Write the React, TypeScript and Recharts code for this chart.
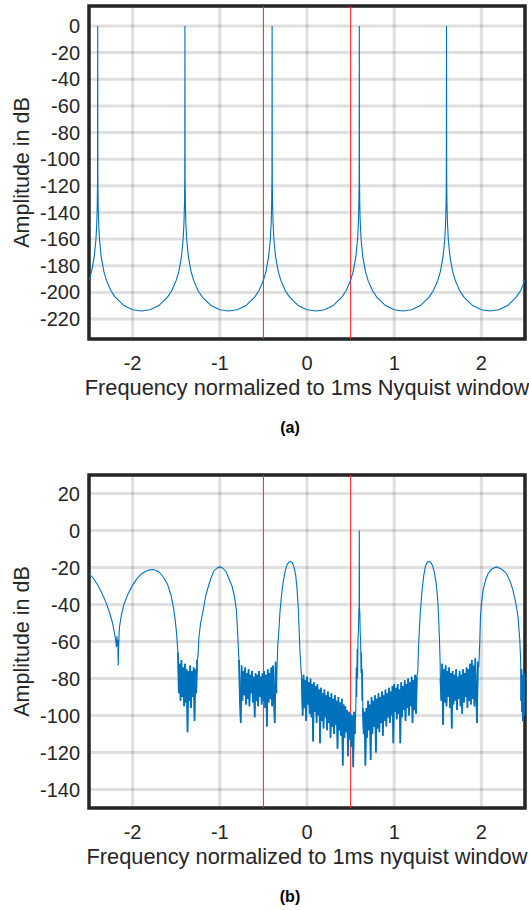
import React from "react";
import { LineChart, Line, XAxis, YAxis, CartesianGrid, ReferenceLine, ReferenceArea } from "recharts";

// --- Data ---

const FREQ_TICKS = [-2, -1, 0, 1, 2];
const DB_TICKS_A = [-220, -200, -180, -160, -140, -120, -100, -80, -60, -40, -20, 0];
const DB_TICKS_B = [-140, -120, -100, -80, -60, -40, -20, 0, 20];
const NYQUIST_EDGES = [-0.5, 0.5];

// (a) ideal tone images: one lobe shape, repeated at each image frequency
const PEAKS_A = [-2.4, -1.4, -0.4, 0.6, 1.6, 2.6];
const LOBE_OFFSETS = [-0.5, -0.4, -0.3, -0.2, -0.15, -0.1, -0.07, -0.04, -0.02, -0.01, -0.005, -0.002, 0,
  0.002, 0.005, 0.01, 0.02, 0.04, 0.07, 0.1, 0.15, 0.2, 0.3, 0.4];
const LOBE_DB = [-214, -213, -209.9, -203.6, -198.6, -191, -184.2, -173.4, -159.9, -146.4, -132.8, -115, 0,
  -115, -132.8, -146.4, -159.9, -173.4, -184.2, -191, -198.6, -203.6, -209.9, -213];

// (b) smooth lobes as [freq, dB]
const EDGE_LOBE = [
  [-2.5, -23.4], [-2.45, -25.8], [-2.4, -29.5], [-2.35, -34], [-2.3, -39.5], [-2.26, -45], [-2.23, -50],
  [-2.21, -55], [-2.195, -59], [-2.185, -63], [-2.18, -57], [-2.175, -62], [-2.17, -59], [-2.165, -73],
  [-2.16, -63], [-2.155, -56], [-2.15, -52], [-2.13, -46], [-2.1, -40], [-2.05, -34], [-2.0, -29.5],
  [-1.95, -26], [-1.9, -23.5], [-1.85, -22], [-1.8, -21.3], [-1.76, -21.1], [-1.7, -22.3], [-1.65, -25],
  [-1.6, -29], [-1.56, -35], [-1.53, -42], [-1.51, -49], [-1.495, -56], [-1.485, -63],
];
const LOBE_1 = [
  [-1.25, -68], [-1.24, -58], [-1.22, -50], [-1.19, -43], [-1.16, -35], [-1.13, -30], [-1.1, -25.5],
  [-1.07, -22], [-1.03, -20.2], [-1.0, -19.7], [-0.97, -20.2], [-0.93, -22], [-0.9, -25.5], [-0.86, -30],
  [-0.83, -36], [-0.81, -43], [-0.795, -55], [-0.785, -66],
];
const LOBE_2 = [
  [-0.345, -76], [-0.335, -62], [-0.32, -52], [-0.31, -44], [-0.29, -34], [-0.27, -27], [-0.25, -22],
  [-0.23, -18.5], [-0.21, -17.2], [-0.19, -16.8], [-0.17, -17.3], [-0.15, -19.5], [-0.13, -24],
  [-0.115, -31], [-0.1, -42], [-0.09, -54], [-0.08, -66], [-0.07, -74],
];
const TONE_PEAK = [
  [0.56, -96], [0.565, -74], [0.57, -90], [0.575, -64], [0.58, -80], [0.585, -58], [0.59, -54],
  [0.594, -44], [0.598, -41], [0.6, 0], [0.602, -42], [0.606, -45], [0.61, -55], [0.615, -60],
  [0.62, -77], [0.625, -66], [0.63, -92], [0.635, -75],
];
const LOBE_3 = [
  [1.27, -76], [1.28, -62], [1.29, -52], [1.3, -44], [1.32, -32], [1.34, -24], [1.36, -19], [1.38, -17],
  [1.4, -16.8], [1.42, -17.3], [1.44, -19], [1.46, -22.5], [1.48, -28], [1.5, -38], [1.51, -48],
  [1.52, -60], [1.527, -72],
];
const LOBE_4 = [
  [1.97, -74], [1.98, -62], [1.99, -46], [2.0, -40], [2.02, -32], [2.05, -26.5], [2.08, -23],
  [2.12, -20.8], [2.17, -19.7], [2.22, -20.5], [2.26, -22], [2.29, -23.5], [2.33, -27.5], [2.36, -32],
  [2.39, -38], [2.42, -46.6], [2.44, -59], [2.45, -70],
];

// (b) noise floor between the lobes: start freq, bin step, dB values
const NOISE_1 = { start: -1.48, step: 0.01, db: [-66, -88, -72, -92, -70, -90, -74, -95, -72, -93, -75, -109,
  -76, -92, -73, -96, -76, -90, -74, -103, -75, -88, -70] };
const NOISE_2 = { start: -0.78, step: 0.01, db: [-70, -90, -104, -73, -92, -76, -89, -74, -94, -77, -91, -75,
  -95, -78, -88, -76, -93, -79, -101, -77, -92, -78, -95, -76, -90, -79, -94, -77, -92, -76, -96, -78,
  -106, -75, -93, -77, -91, -74, -95, -73, -90, -104, -71, -88] };
const NOISE_3 = { start: -0.06, step: 0.01, db: [-80, -100, -78, -96, -81, -103, -79, -94, -82, -99,
  -80, -101, -83, -114, -82, -98, -84, -104, -83, -100, -86, -115, -85, -103, -88, -107, -86, -101, -89, -108,
  -87, -104, -90, -112, -88, -106, -91, -110, -89, -105, -92, -118, -90, -108, -93, -111, -91, -127, -94, -112,
  -95, -109, -97, -122, -98, -113, -99, -117, -100, -128, -98, -110] };
const NOISE_4 = { start: 0.64, step: 0.01, db: [-96, -110, -98, -127, -96, -112, -92, -108, -94, -124,
  -90, -110, -92, -106, -89, -120, -91, -107, -88, -109, -90, -104, -87, -111, -89, -103, -86, -106, -88, -101,
  -85, -104, -87, -100, -84, -115, -83, -98, -85, -102, -83, -99, -86, -115, -82, -101, -84, -97, -81, -103,
  -83, -96, -80, -100, -82, -95, -79, -104, -81, -97, -78, -99, -79] };
const NOISE_5 = { start: 1.53, step: 0.01, db: [-80, -92, -72, -105, -75, -93, -73, -95, -76, -90,
  -74, -96, -77, -107, -76, -94, -78, -92, -75, -97, -79, -91, -76, -95, -78, -99, -75, -93, -77, -90,
  -74, -96, -75, -92, -72, -94, -70, -91, -73, -95, -69, -90, -104, -71] };
const NOISE_6 = { start: 2.455, step: 0.005, db: [-92, -75, -98, -78, -103, -80, -95, -77, -100, -82] };

// --- Build tables ---

const r3 = (v: number) => Math.round(v * 1000) / 1000;

const dataA = PEAKS_A.flatMap((p) => LOBE_OFFSETS.map((o, i) => ({ f: r3(p + o), db: LOBE_DB[i] })))
  .filter((d) => d.f >= -2.5 && d.f <= 2.5)
  .sort((a, b) => a.f - b.f);

const pairs = (arr: number[][]) => arr.map(([f, db]) => ({ f, db, nz: null as number | null }));
// noise rows also carry "nz" so the floor can be drawn a bit heavier (it is a dense smear in the original)
const noise = (n: { start: number; step: number; db: number[] }) =>
  n.db.map((db, i) => ({ f: r3(n.start + i * n.step), db, nz: db as number | null }));

const dataB = [
  ...pairs(EDGE_LOBE), ...noise(NOISE_1), ...pairs(LOBE_1), ...noise(NOISE_2), ...pairs(LOBE_2),
  ...noise(NOISE_3), ...pairs(TONE_PEAK), ...noise(NOISE_4), ...pairs(LOBE_3), ...noise(NOISE_5),
  ...pairs(LOBE_4), ...noise(NOISE_6),
].sort((a, b) => a.f - b.f);

// --- Styles ---

const FONT = '"Liberation Sans", Arial, Helvetica, sans-serif';
const INK = "#262626";
const BLUE = "#0072BD";
const RED = "#ff1f1f";
const TICK_MARK = { stroke: INK, strokeWidth: 3 };

function XTitle({ viewBox, text }: any) {
  const { x, y, width } = viewBox;
  return (
    <text x={x + width / 2} y={y + 56} textAnchor="middle" fontSize={21.8} fill={INK} fontFamily={FONT}>
      {text}
    </text>
  );
}

function YTitle({ viewBox, text }: any) {
  const cx = viewBox.x + 22;
  const cy = viewBox.y + viewBox.height / 2;
  return (
    <text x={cx} y={cy} transform={`rotate(-90 ${cx} ${cy})`} textAnchor="middle" dominantBaseline="central"
      fontSize={21.5} fill={INK} fontFamily={FONT}>
      {text}
    </text>
  );
}

function Panel({ data, domain, ticks, xTitle, caption, top, noisy }: any) {
  const fx = [-2.5, 2.5];
  return (
    <div style={{ position: "absolute", left: 0, top, width: 529, height: 440 }}>
      <LineChart width={529} height={400} data={data} margin={{ top: 6, right: 4, bottom: 0, left: 0 }}>
        <CartesianGrid xAxisId="x" yAxisId="y" stroke={INK} strokeOpacity={0.15} strokeWidth={3} />

        {/* inward tick marks (mirrored, zero-size axes) */}
        <XAxis xAxisId="xb" orientation="bottom" mirror dataKey="f" type="number" domain={fx} ticks={FREQ_TICKS}
          allowDataOverflow interval={0} height={0} tickSize={6} axisLine={false} tickLine={TICK_MARK} tick={false} />
        <XAxis xAxisId="xt" orientation="top" mirror dataKey="f" type="number" domain={fx} ticks={FREQ_TICKS}
          allowDataOverflow interval={0} height={0} tickSize={6} axisLine={false} tickLine={TICK_MARK} tick={false} />
        <YAxis yAxisId="yl" orientation="left" mirror type="number" domain={domain} ticks={ticks} allowDataOverflow
          interval={0} width={0} tickSize={6} axisLine={false} tickLine={TICK_MARK} tick={false} />
        <YAxis yAxisId="yr" orientation="right" mirror type="number" domain={domain} ticks={ticks} allowDataOverflow
          interval={0} width={0} tickSize={6} axisLine={false} tickLine={TICK_MARK} tick={false} />

        {/* labelled axes */}
        <XAxis xAxisId="x" dataKey="f" type="number" domain={fx} ticks={FREQ_TICKS} allowDataOverflow
          interval={0} height={61} tickSize={0} tickMargin={17} axisLine={false} tickLine={false}
          tick={{ fontSize: 20, fill: INK, fontFamily: FONT }} label={<XTitle text={xTitle} />} />
        <YAxis yAxisId="y" type="number" domain={domain} ticks={ticks} allowDataOverflow interval={0} width={89}
          tickSize={0} tickMargin={9} axisLine={false} tickLine={false}
          tick={{ fontSize: 20, fill: INK, fontFamily: FONT }} label={<YTitle text="Amplitude in dB" />} />

        {NYQUIST_EDGES.map((x) => (
          <ReferenceLine key={x} xAxisId="x" yAxisId="y" x={x} stroke={RED} strokeWidth={1} />
        ))}
        <Line xAxisId="x" yAxisId="y" type="linear" dataKey="db" stroke={BLUE} strokeWidth={1.1} dot={false}
          activeDot={false} isAnimationActive={false} />
        {noisy && (
          <Line xAxisId="x" yAxisId="y" type="linear" dataKey="nz" stroke={BLUE} strokeWidth={1.7} dot={false}
            activeDot={false} connectNulls={false} isAnimationActive={false} />
        )}
        <ReferenceArea xAxisId="x" yAxisId="y" x1={fx[0]} x2={fx[1]} y1={domain[0]} y2={domain[1]}
          fill="none" stroke={INK} strokeWidth={3.5} ifOverflow="visible" />
      </LineChart>
      <div style={{ position: "absolute", left: 250, top: 418, width: 80, textAlign: "center", fontFamily: FONT,
        fontWeight: "bold", fontSize: 16, lineHeight: "20px", color: "#000" }}>
        {caption}
      </div>
    </div>
  );
}

export default function App() {
  return (
    <div style={{ position: "absolute", left: 0, top: 0, width: 529, height: 910, background: "#fff" }}>
      <Panel data={dataA} domain={[-235, 15]} ticks={DB_TICKS_A} top={0}
        xTitle="Frequency normalized to 1ms Nyquist window" caption="(a)" />
      <Panel data={dataB} domain={[-150, 30]} ticks={DB_TICKS_B} top={469} noisy
        xTitle="Frequency normalized to 1ms nyquist window" caption="(b)" />
    </div>
  );
}
